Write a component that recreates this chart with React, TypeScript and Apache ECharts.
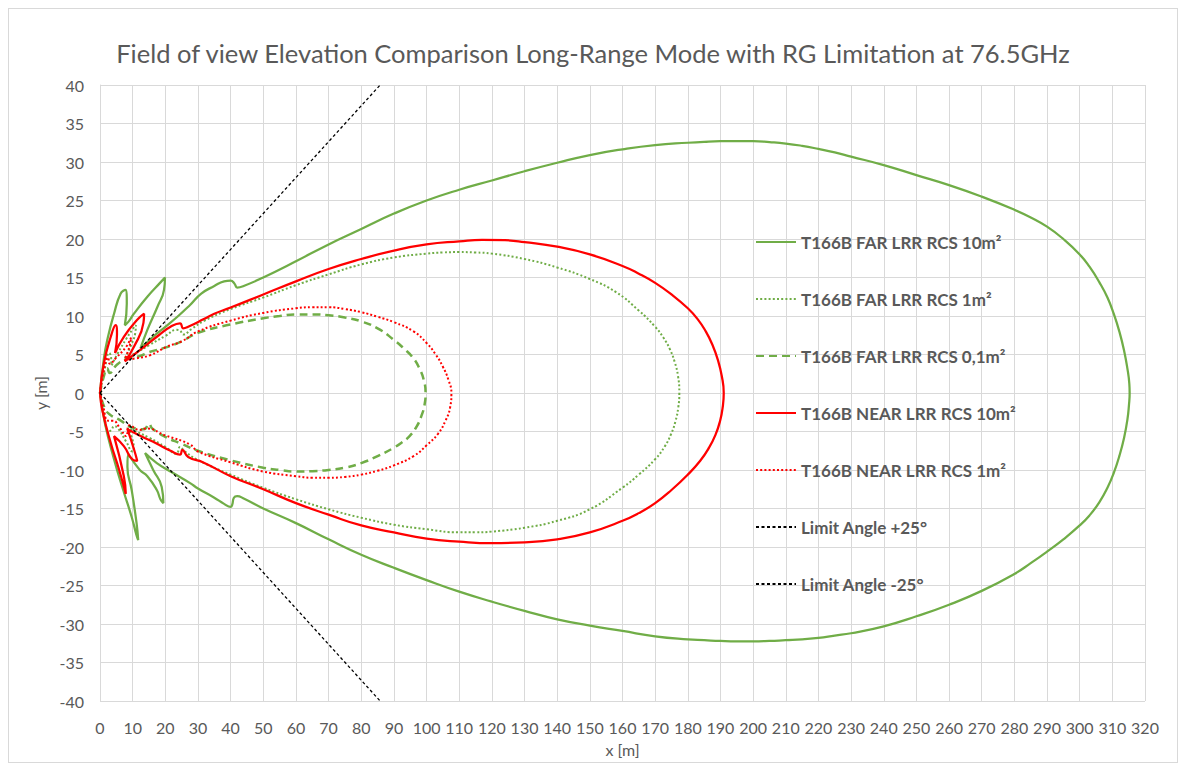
import { useEffect, useRef } from "react";
import * as echarts from "echarts";

const TITLE = "Field of view Elevation Comparison Long-Range Mode with RG Limitation at 76.5GHz";
const X_NAME = "x [m]";
const Y_NAME = "y [m]";

const seriesNames = [
  "T166B FAR LRR RCS 10m²",
  "T166B FAR LRR RCS 1m²",
  "T166B FAR LRR RCS 0,1m²",
  "T166B NEAR LRR RCS 10m²",
  "T166B NEAR LRR RCS 1m²",
  "Limit Angle +25°",
  "Limit Angle -25°",
];

const far10: number[][] = [
  [0, 0], [1.2, 4.5], [2.4, 7.2], [4.3, 10.3], [6.3, 12.9], [7.8, 13.4], [8.2, 11.6], [7.6, 8.8],
  [8.8, 9.3], [10.4, 10.3], [14.5, 12.5], [18.6, 14.4], [19.9, 15.0], [19.6, 13.4], [17.6, 11.2],
  [14.5, 8.2], [12.4, 5.8], [14.5, 6.6], [16.5, 7.4], [20, 8.6], [23.7, 9.9], [27.5, 11.4],
  [31, 12.9], [35, 13.9], [38, 14.5], [40, 14.6], [41.2, 14.2], [42, 13.7], [44, 13.9], [50, 15.0],
  [60, 17.1], [70, 19.3], [80, 21.3], [90, 23.3], [100, 25.0], [110, 26.4], [120, 27.6], [130, 28.8],
  [140, 29.9], [150, 30.9], [160, 31.65], [170, 32.2], [180, 32.5], [185, 32.62], [190, 32.7],
  [195, 32.72], [200, 32.7], [205, 32.58], [210, 32.4], [215, 32.1], [220, 31.7], [225, 31.25],
  [230, 30.7], [240, 29.6], [250, 28.3], [260, 27.0], [270, 25.5], [280, 23.8], [285, 22.8],
  [290, 21.6], [295, 20.0], [300, 18.0], [303, 16.4], [306, 14.4], [308.5, 12.4], [310.5, 10.2],
  [312.2, 7.9], [313.6, 5.5], [314.6, 3.2], [315.2, 1.2], [315.3, 0], [315.1, -1.5], [314.6, -3.5],
  [313.6, -5.8], [312.2, -8.1], [310.5, -10.3], [308.5, -12.3], [306, -14.2], [303, -15.9],
  [300, -17.2], [295, -19.0], [290, -20.6], [285, -22.1], [280, -23.5], [270, -25.7], [260, -27.5],
  [250, -29.0], [240, -30.3], [230, -31.2], [225, -31.5], [220, -31.8], [215, -32.0], [210, -32.1],
  [205, -32.2], [200, -32.25], [195, -32.25], [190, -32.2], [185, -32.1], [180, -32.0], [170, -31.6],
  [160, -30.9], [150, -30.2], [140, -29.4], [130, -28.3], [120, -27.1], [110, -25.8], [100, -24.3],
  [90, -22.7], [80, -21.0], [70, -19.0], [60, -16.9], [50, -15.0], [44, -13.7], [42, -13.4],
  [41, -13.6], [40.5, -14.5], [40, -14.8], [38, -14.4], [35, -13.6], [30, -12.4], [27.6, -11.7],
  [22, -10.3], [17.4, -9.1], [13.8, -7.8], [16.3, -10.0], [18.9, -12.2], [19.4, -14.3], [18.5, -13.8],
  [17.4, -12.6], [14.5, -10.8], [12.2, -10.0], [8.6, -8.0], [8.4, -9.6], [9.7, -12.6], [11.2, -16.9],
  [11.7, -19.1], [11.2, -18.5], [9.7, -16.1], [7.1, -12.6], [4.1, -8.3], [1.5, -3.9], [0, 0],
];

const far1: number[][] = [
  [0, 0], [1.5, 3.2], [2.8, 5.2], [3.4, 4.6], [3.5, 3.6], [5.5, 5.2], [8, 7.0], [10, 8.3], [11, 8.8],
  [10.8, 7.8], [9.5, 6.2], [7.5, 4.4], [11, 5.2], [15, 6.2], [20, 7.4], [23.5, 8.2], [24.5, 8.1],
  [25.5, 7.6], [28, 8.3], [32, 9.4], [40, 10.9], [50, 12.4], [60, 14.0], [70, 15.4], [80, 16.7],
  [90, 17.6], [100, 18.1], [105, 18.25], [110, 18.3], [115, 18.25], [120, 18.1], [130, 17.4],
  [140, 16.3], [150, 14.8], [158, 13.1], [165, 10.7], [170, 8.6], [172.5, 7.2], [174.5, 5.7],
  [176, 4.0], [177, 2.2], [177.4, 0], [177.1, -1.8], [176.2, -3.7], [174.8, -5.4], [173, -6.9],
  [170, -8.6], [165, -10.6], [160, -12.3], [150, -15.1], [140, -16.6], [130, -17.5], [120, -18.0],
  [115, -18.1], [110, -18.1], [100, -17.7], [90, -17.1], [80, -16.2], [70, -15.1], [60, -13.8],
  [50, -12.3], [40, -10.6], [30, -8.7], [26, -7.6], [24.5, -7.0], [23.4, -7.9], [20, -7.0],
  [15, -5.8], [10, -4.8], [8.5, -4.6], [10.4, -7.3], [10, -7.6], [8, -6.3], [5.5, -4.6], [4.3, -4.3],
  [3.5, -4.8], [2.6, -5.0], [1.2, -2.6], [0, 0],
];

const far01: number[][] = [
  [0, 0], [1.2, 2.2], [2.2, 3.2], [3, 2.6], [5, 3.6], [8, 4.4], [12.2, 4.8], [15, 5.3], [20, 5.9],
  [24.5, 6.6], [30, 7.8], [40, 8.9], [50, 9.7], [55, 10.0], [60, 10.2], [65, 10.2], [70, 10.1],
  [75, 9.8], [80, 9.3], [85, 8.4], [90, 6.9], [93, 5.8], [95.8, 4.6], [97.8, 3.2], [99.2, 1.6],
  [99.7, 0], [99.4, -1.5], [98.4, -3.0], [96.9, -4.4], [94.8, -5.6], [92.5, -6.4], [90, -7.1],
  [85, -8.2], [80, -9.1], [75, -9.7], [70, -10.0], [65, -10.15], [60, -10.2], [55, -10.0],
  [50, -9.7], [40, -8.75], [30, -7.5], [25, -6.6], [20, -5.7], [16, -4.6], [15, -4.0], [13.5, -4.7],
  [10, -4.5], [6, -3.5], [3, -2.8], [1.5, -2.0], [0, 0],
];

const near10: number[][] = [
  [0, 0], [1.2, 3.9], [3.3, 7.3], [4.8, 8.8], [5.2, 7.6], [4.6, 5.2], [7.3, 7.3], [11.4, 9.5],
  [13.5, 10.3], [13.3, 9.1], [10.4, 6.0], [7.6, 4.1], [13.5, 6.0], [18, 7.5], [21.6, 8.6],
  [24.5, 9.05], [25.5, 8.4], [27, 8.6], [31.8, 9.6], [35, 10.3], [40, 11.1], [50, 12.8], [60, 14.5],
  [70, 16.1], [80, 17.4], [90, 18.5], [100, 19.3], [110, 19.7], [117, 19.9], [124, 19.85],
  [130, 19.6], [140, 19.0], [150, 18.0], [160, 16.5], [165, 15.5], [170, 14.3], [175, 12.8],
  [180, 11.0], [183, 9.6], [185.5, 8.0], [187.5, 6.3], [189.2, 4.3], [190.4, 2.2], [191, 0],
  [190.7, -1.8], [189.9, -3.6], [188.5, -5.4], [186.5, -7.1], [183.8, -8.8], [180, -10.6],
  [175, -12.6], [170, -14.3], [165, -15.6], [160, -16.6], [150, -18.1], [140, -19.0], [130, -19.4],
  [120, -19.5], [110, -19.3], [100, -18.9], [90, -18.1], [80, -17.2], [70, -15.8], [60, -14.3],
  [50, -12.5], [40, -10.8], [31.8, -9.05], [27, -8.3], [25.2, -7.4], [24.5, -8.0], [21.6, -7.5],
  [17, -6.5], [13.5, -5.8], [8.4, -4.7], [10.4, -7.3], [11.4, -8.8], [9.9, -8.6], [7.3, -6.9],
  [4.3, -5.6], [7.3, -10.8], [7.9, -13.1], [5.8, -9.9], [3.3, -6.5], [0.7, -2.2], [0, 0],
];

const near1: number[][] = [
  [0, 0], [1.2, 3.0], [2.5, 4.6], [3, 3.8], [5, 4.6], [8, 6.0], [9.5, 7.2], [9, 6.0], [7.5, 4.3],
  [11, 4.5], [15.3, 4.9], [20.4, 6.0], [25, 6.7], [30, 8.0], [40, 9.4], [50, 10.4], [60, 11.0],
  [65, 11.15], [70, 11.15], [75, 10.9], [80, 10.5], [85, 9.9], [90, 9.2], [96, 8.0], [100, 6.5],
  [102.8, 5.0], [105, 3.4], [106.7, 1.7], [107.6, 0], [107.2, -1.9], [105.8, -3.6], [103.5, -5.3],
  [100, -6.8], [96, -8.2], [90, -9.4], [85, -10.1], [80, -10.6], [75, -10.9], [70, -11.0],
  [65, -11.0], [60, -10.8], [50, -10.2], [40, -9.0], [30, -7.6], [27.6, -6.7], [20, -5.5], [14, -4.6],
  [12.2, -4.8], [9, -4.2], [8, -5.6], [6, -4.5], [4, -3.6], [2.5, -3.6], [1, -1.8], [0, 0],
];

const limitAngleDeg = 25;
const yMax = 40;
const limitReachX = yMax / Math.tan((limitAngleDeg * Math.PI) / 180);
const limitUp: number[][] = [[0, 0], [limitReachX, yMax]];
const limitDown: number[][] = [[0, 0], [limitReachX, -yMax]];

const GREEN = "#70AD47";
const RED = "#FF0000";
const GREY = "#595959";
const FONT = "Lato, 'Open Sans', sans-serif";

export default function App() {
  const ref = useRef<HTMLDivElement>(null);
  useEffect(() => {
    const chart = echarts.init(ref.current!, null, { renderer: "svg" });
    const mk = (name: string, data: number[][], color: string, width: number, type: any) => ({
      name,
      type: "line",
      data,
      symbol: "none",
      smooth: 0.5,
      lineStyle: { color, width, type, cap: "butt" },
      itemStyle: { color },
      emphasis: { disabled: true },
    });
    chart.setOption({
      animation: false,
      backgroundColor: "#ffffff",
      title: {
        text: TITLE,
        left: "center",
        top: 26,
        textStyle: { fontFamily: FONT, fontSize: 25.5, fontWeight: "normal", color: GREY },
      },
      grid: { left: 91, top: 76, width: 1045, height: 616, containLabel: false },
      legend: {
        orient: "vertical",
        left: 746,
        top: 224.5,
        padding: 0,
        itemWidth: 40,
        itemHeight: 14,
        itemGap: 40,
        itemStyle: { opacity: 0 },
        textStyle: { fontFamily: FONT, fontSize: 17, fontWeight: "bold", color: GREY, lineHeight: 17 },
        data: seriesNames,
      },
      xAxis: {
        type: "value",
        min: 0,
        max: 320,
        interval: 10,
        name: X_NAME,
        nameLocation: "middle",
        nameGap: 40,
        nameTextStyle: { fontFamily: FONT, fontSize: 16, color: GREY },
        axisLine: { show: true, lineStyle: { color: "#d9d9d9", width: 1 } },
        axisTick: { show: false },
        axisLabel: { fontFamily: FONT, fontSize: 16, color: GREY, margin: 18, hideOverlap: false },
        splitLine: { show: true, lineStyle: { color: "#d9d9d9", width: 1 } },
      },
      yAxis: {
        type: "value",
        min: -40,
        max: 40,
        interval: 5,
        name: Y_NAME,
        nameLocation: "middle",
        nameGap: 48,
        nameRotate: 90,
        nameTextStyle: { fontFamily: FONT, fontSize: 16, color: GREY },
        axisLine: { show: true, onZero: false, lineStyle: { color: "#d9d9d9", width: 1 } },
        axisTick: { show: false },
        axisLabel: { fontFamily: FONT, fontSize: 16, color: GREY, margin: 16 },
        splitLine: { show: true, lineStyle: { color: "#d9d9d9", width: 1 } },
      },
      series: [
        mk(seriesNames[0], far10, GREEN, 2.25, "solid"),
        mk(seriesNames[1], far1, GREEN, 2, [2, 2.2]),
        mk(seriesNames[2], far01, GREEN, 2.5, [8, 5]),
        mk(seriesNames[3], near10, RED, 2.25, "solid"),
        mk(seriesNames[4], near1, RED, 2, [2, 2.2]),
        { ...mk(seriesNames[5], limitUp, "#000000", 1.3, [3, 2.5]), smooth: false },
        { ...mk(seriesNames[6], limitDown, "#000000", 1.3, [3, 2.5]), smooth: false },
      ],
    });
    return () => chart.dispose();
  }, []);
  return (
    <div style={{ width: 1170, height: 755, border: "1px solid #d9d9d9", boxSizing: "border-box" }}>
      <div ref={ref} style={{ width: 1168, height: 753 }} />
    </div>
  );
}
